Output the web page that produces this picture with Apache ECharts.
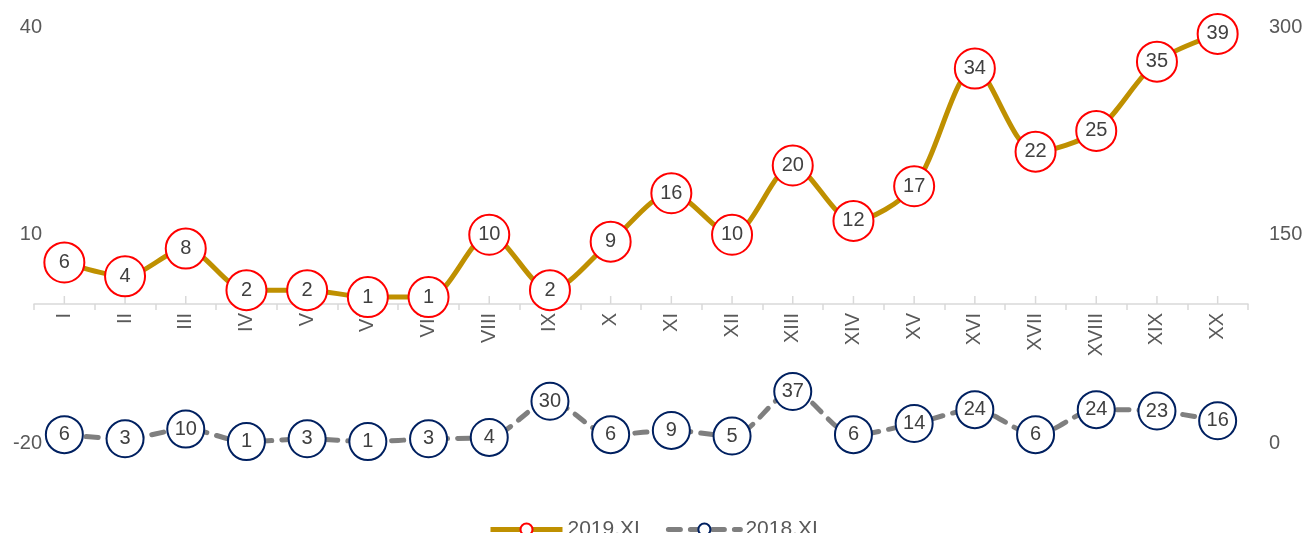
<!DOCTYPE html>
<html>
<head>
<meta charset="utf-8">
<script src="https://cdn.jsdelivr.net/npm/echarts@6/dist/echarts.min.js"></script>
<style>
  html, body { margin: 0; padding: 0; background: #fff; }
  #chart { width: 1311px; height: 533px; }
</style>
</head>
<body>
<div id="chart"></div>
<script>
  // categories and values
  var months = ['I', 'II', 'III', 'IV', 'V', 'VI', 'VII', 'VIII', 'IX', 'X', 'XI', 'XII', 'XIII', 'XIV', 'XV', 'XVI', 'XVII', 'XVIII', 'XIX', 'XX'];
  var data2019 = [6, 4, 8, 2, 2, 1, 1, 10, 2, 9, 16, 10, 20, 12, 17, 34, 22, 25, 35, 39];
  var data2018 = [6, 3, 10, 1, 3, 1, 3, 4, 30, 6, 9, 5, 37, 6, 14, 24, 6, 24, 23, 16];
  var leftTicks = [-20, 10, 40];
  var rightTicks = [0, 150, 300];

  var font = 'Liberation Sans, Arial, sans-serif';
  var myChart = echarts.init(document.getElementById('chart'));

  // the left axis (-20..40) and right axis (0..300) are split at the zero line
  // into an upper grid and a lower grid so the category labels sit on the zero line
  function valAxis(grid, min, max, ticks, right) {
    return {
      type: 'value',
      gridIndex: grid,
      position: right ? 'right' : 'left',
      min: min,
      max: max,
      axisLine: { show: false },
      axisTick: { show: false },
      splitLine: { show: false },
      axisLabel: {
        customValues: ticks.filter(function (t) { return t >= min && t <= max && !(grid === 0 && t === min); }),
        margin: right ? 21 : -8,
        fontSize: 20,
        color: '#595959',
        fontFamily: font
      }
    };
  }

  var options = {
    animation: false,
    textStyle: { fontFamily: font },
    grid: [
      { left: 34, right: 63, top: 27, bottom: 229 },
      { left: 34, right: 63, top: 304, bottom: 90 }
    ],
    legend: {
      top: 514,
      left: 483,
      itemWidth: 72,
      itemHeight: 15,
      itemGap: 26,
      lineStyle: { width: 5 },
      textStyle: { fontSize: 21, color: '#595959', fontFamily: font },
      data: ['2019.XI', '2018.XI']
    },
    xAxis: [
      {
        type: 'category',
        gridIndex: 0,
        data: months,
        boundaryGap: true,
        axisLine: { lineStyle: { color: '#d9d9d9', width: 1.5 } },
        axisTick: { show: true, length: 6, lineStyle: { color: '#d9d9d9', width: 1.5 } },
        axisLabel: { rotate: 90, margin: 9, fontSize: 20, color: '#595959', fontFamily: font, interval: 0 }
      },
      {
        type: 'category',
        gridIndex: 1,
        data: months,
        boundaryGap: true,
        show: false
      }
    ],
    yAxis: [
      valAxis(0, 0, 40, leftTicks, false),
      valAxis(0, 100, 300, rightTicks, true),
      valAxis(1, -20, 0, leftTicks, false),
      valAxis(1, 0, 100, rightTicks, true)
    ],
    series: [
      {
        // short upward ticks at each category centre on the zero line
        type: 'custom',
        silent: true,
        xAxisIndex: 0,
        yAxisIndex: 0,
        data: months.map(function (m) { return [m, 0]; }),
        renderItem: function (params, api) {
          var p = api.coord([api.value(0), 0]);
          return {
            type: 'line',
            shape: { x1: p[0], y1: p[1], x2: p[0], y2: p[1] - 8 },
            style: { stroke: '#d9d9d9', lineWidth: 1.5 }
          };
        },
        z: 1
      },
      {
        name: '2019.XI',
        type: 'line',
        xAxisIndex: 0,
        yAxisIndex: 0,
        data: data2019,
        smooth: 0.3,
        clip: false,
        symbol: 'circle',
        symbolSize: 40,
        lineStyle: { color: '#BF9000', width: 5 },
        itemStyle: { color: '#ffffff', borderColor: '#ff0000', borderWidth: 2 },
        label: { show: true, position: 'inside', fontSize: 20, color: '#404040', fontFamily: font },
        z: 3
      },
      {
        name: '2018.XI',
        type: 'line',
        xAxisIndex: 1,
        yAxisIndex: 3,
        data: data2018,
        smooth: 0.3,
        clip: false,
        symbol: 'circle',
        symbolSize: 37,
        lineStyle: { color: '#7F7F7F', width: 5, type: [12, 10], cap: 'round' },
        itemStyle: { color: '#ffffff', borderColor: '#002060', borderWidth: 2 },
        label: { show: true, position: 'inside', fontSize: 20, color: '#404040', fontFamily: font },
        z: 2
      }
    ]
  };

  myChart.setOption(options);
</script>
</body>
</html>
